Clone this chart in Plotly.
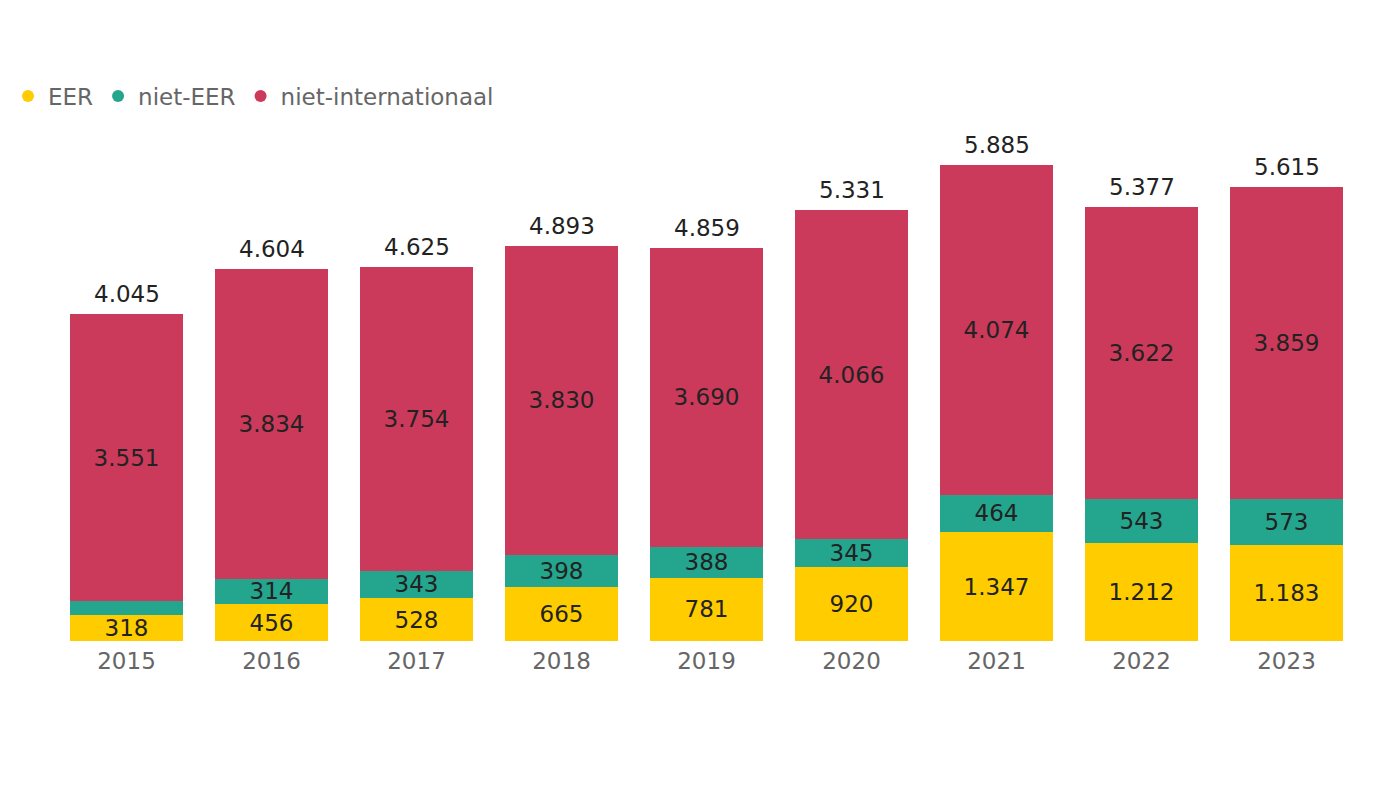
import plotly.graph_objects as go

years = ["2015", "2016", "2017", "2018", "2019", "2020", "2021", "2022", "2023"]
eer = [318, 456, 528, 665, 781, 920, 1347, 1212, 1183]
niet_eer = [176, 314, 343, 398, 388, 345, 464, 543, 573]
niet_int = [3551, 3834, 3754, 3830, 3690, 4066, 4074, 3622, 3859]
totals = [4045, 4604, 4625, 4893, 4859, 5331, 5885, 5377, 5615]

series_names = ["EER", "niet-EER", "niet-internationaal"]
colors = ["#FFCC00", "#24A68E", "#CB3A5B"]


def fmt(v):
    return f"{v:,}".replace(",", ".")


def labels(vals, min_show=200):
    return [fmt(v) if v >= min_show else "" for v in vals]


fig = go.Figure()
for name, vals, col in zip(series_names, [eer, niet_eer, niet_int], colors):
    fig.add_trace(go.Bar(
        x=years, y=vals, name=name, marker_color=col, marker_line_width=0,
        text=labels(vals), textposition="inside", insidetextanchor="middle",
        textfont=dict(size=23, color="#222222", family="DejaVu Sans"),
        constraintext="none", showlegend=False, hoverinfo="skip",
    ))
    fig.add_trace(go.Scatter(
        x=[None], y=[None], mode="markers", name=name,
        marker=dict(symbol="circle", size=12, color=col), showlegend=True,
    ))

# total labels above each stack (x given as category index)
for i, t in enumerate(totals):
    fig.add_annotation(x=i, y=t, text=fmt(t), showarrow=False,
                       yanchor="bottom", yshift=5,
                       font=dict(size=23, color="#222222", family="DejaVu Sans"))

fig.update_layout(
    width=1400, height=788,
    barmode="stack", bargap=0.214,
    plot_bgcolor="white", paper_bgcolor="white",
    margin=dict(l=46, r=49, t=108, b=155),
    uniformtext=dict(minsize=23, mode="show"),
    font=dict(family="DejaVu Sans", color="#666666"),
    legend=dict(orientation="h", xref="container", yref="container",
                x=0, xanchor="left", y=1 - 88 / 788, yanchor="middle",
                font=dict(size=23, color="#666666"), itemwidth=30,
                traceorder="normal", tracegroupgap=0, itemclick=False),
    xaxis=dict(type="category", categoryorder="array", categoryarray=years,
               range=[-0.5, len(years) - 0.5],
               showgrid=False, showline=False, ticks="", ticklabelstandoff=4,
               tickfont=dict(size=23, color="#666666")),
    yaxis=dict(visible=False, range=[0, 6330]),
)

fig.write_html("out.html")
